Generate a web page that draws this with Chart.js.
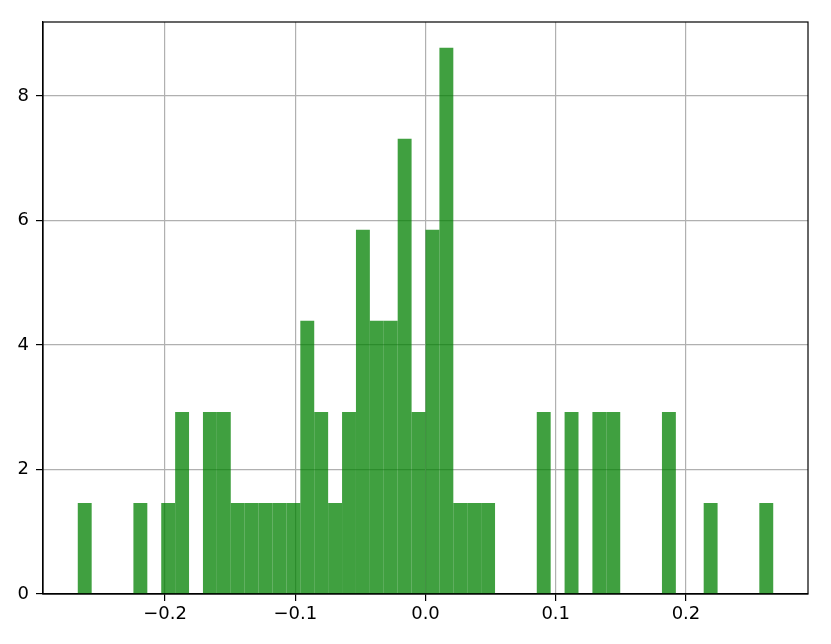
<!DOCTYPE html>
<html>
<head>
<meta charset="utf-8">
<script src="https://cdn.jsdelivr.net/npm/chart.js@4"></script>
<style>
  html, body { margin: 0; padding: 0; background: #fff; }
  #wrap { width: 831px; height: 644px; }
</style>
</head>
<body>
<div id="wrap"><canvas id="chart" width="831" height="644"></canvas></div>
<script>
// histogram: 50 bins between -0.267 and 0.267, counts per bin
const binStart = -0.267;
const binWidth = 0.01068;
const binCounts = [
  1, 0, 0, 0, 1, 0, 1, 2, 0, 2,
  2, 1, 1, 1, 1, 1, 3, 2, 1, 2,
  4, 3, 3, 5, 2, 4, 6, 1, 1, 1,
  0, 0, 0, 2, 0, 2, 0, 2, 2, 0,
  0, 0, 2, 0, 0, 1, 0, 0, 0, 1
];
const xTicks = [-0.2, -0.1, 0.0, 0.1, 0.2];
const xTickLabels = ['\u22120.2', '\u22120.1', '0.0', '0.1', '0.2'];
const yTicks = [0, 2, 4, 6, 8];
const yTickLabels = ['0', '2', '4', '6', '8'];

const total = binCounts.reduce((a, b) => a + b, 0);
// density = count / (N * binWidth), like density=True
const points = binCounts.map((c, i) => ({
  x: binStart + (i + 0.5) * binWidth,
  y: c / (total * binWidth)
}));

const xMin = binStart - 0.05 * (-2 * binStart);
const xMax = -xMin;

const frame = {
  id: 'frame',
  afterDraw(chart) {
    const { ctx, chartArea: a } = chart;
    ctx.save();
    ctx.strokeStyle = '#000';
    ctx.lineWidth = 1.2;
    ctx.strokeRect(a.left, a.top, a.right - a.left, a.bottom - a.top);
    ctx.restore();
  }
};

new Chart(document.getElementById('chart'), {
  type: 'bar',
  data: {
    datasets: [{
      data: points,
      backgroundColor: 'rgba(0, 128, 0, 0.75)',
      borderWidth: 0,
      inflateAmount: 0,
      barPercentage: 1.0,
      categoryPercentage: 1.0
    }]
  },
  options: {
    responsive: false,
    animation: false,
    layout: { padding: { left: 0, right: 23, top: 22, bottom: 0 } },
    plugins: { legend: { display: false }, tooltip: { enabled: false } },
    scales: {
      x: {
        type: 'linear',
        min: xMin,
        max: xMax,
        offset: false,
        z: 1,
        afterBuildTicks: s => { s.ticks = xTicks.map(v => ({ value: v })); },
        afterFit: s => { s.height = 50; },
        ticks: {
          color: '#000',
          font: { family: 'DejaVu Sans', size: 18 },
          padding: 3,
          maxRotation: 0,
          autoSkip: false,
          callback: (v, i) => xTickLabels[i]
        },
        grid: { offset: false, color: '#b0b0b0', lineWidth: 1.2, tickLength: 7, tickColor: '#000', drawTicks: true },
        border: { display: true, color: '#000', width: 1.2 }
      },
      y: {
        min: 0,
        max: 9.19,
        z: 1,
        afterBuildTicks: s => { s.ticks = yTicks.map(v => ({ value: v })); },
        afterFit: s => { s.width = 43; },
        ticks: {
          color: '#000',
          font: { family: 'DejaVu Sans', size: 18 },
          padding: 7,
          callback: (v, i) => yTickLabels[i]
        },
        grid: { color: '#b0b0b0', lineWidth: 1.2, tickLength: 7, tickColor: '#000', drawTicks: true },
        border: { display: true, color: '#000', width: 1.2 }
      }
    }
  },
  plugins: [frame]
});
</script>
</body>
</html>
